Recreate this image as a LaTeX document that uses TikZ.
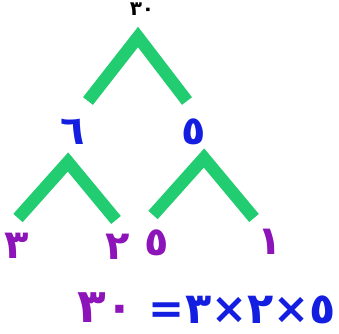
\documentclass[tikz,border=0pt]{standalone}
\usepackage{fontspec}
\TeXXeTstate=1
\newfontfamily\arabicfont[Script=Arabic]{DejaVu Sans}
\definecolor{treegreen}{RGB}{34,204,112}
\definecolor{numblue}{RGB}{20,30,225}
\definecolor{numpurple}{RGB}{140,20,185}
\tikzset{
  branch/.style={draw=treegreen, line width=12.5pt, line join=miter, line cap=butt},
  digit/.style={inner sep=0pt, font=\arabicfont\bfseries\fontsize{40}{44}\selectfont},
  topnum/.style={inner sep=0pt, font=\arabicfont\bfseries\fontsize{20}{24}\selectfont},
  eqn/.style={inner sep=0pt, font=\arabicfont\bfseries\fontsize{43}{48}\selectfont},
  eqbig/.style={inner sep=0pt, font=\arabicfont\bfseries\fontsize{47}{52}\selectfont},
}
\begin{document}
\begin{tikzpicture}[x=1pt,y=-1pt]
\useasboundingbox (0,0) rectangle (339,333);
% numbers
\node[topnum] (n30) at (142,9) {٣٠};
\node[digit,text=numblue] (n6) at (73,132) {٦};
\node[digit,text=numblue] (n5) at (194,132) {٥};
\node[digit,text=numpurple] (n3) at (17,246) {٣};
\node[digit,text=numpurple] (n2) at (118,247) {٢};
\node[digit,text=numpurple] (n5b) at (157,243) {٥};
\node[digit,text=numpurple] (n1) at (270,242) {١};
% branch coordinates
\coordinate (a0) at (138,37);
\coordinate (a0l) at (88,101);
\coordinate (a0r) at (187,101);
\coordinate (a1) at (68,162);
\coordinate (a1l) at (18,218);
\coordinate (a1r) at (116,220);
\coordinate (a2) at (204,158);
\coordinate (a2l) at (153,215);
\coordinate (a2r) at (254,218);
\draw[branch] (a0l) -- (a0) -- (a0r);
\draw[branch] (a1l) -- (a1) -- (a1r);
\draw[branch] (a2l) -- (a2) -- (a2r);
% equation (typed so that the bidi algorithm shows it as =3x2x5)
\node[eqbig,text=numpurple] (e30) at (106,308) {٣٠};
\node[eqn,text=numblue,anchor=east] (prod) at (336,310) {٥×٢×٣=};
\end{tikzpicture}
\end{document}
